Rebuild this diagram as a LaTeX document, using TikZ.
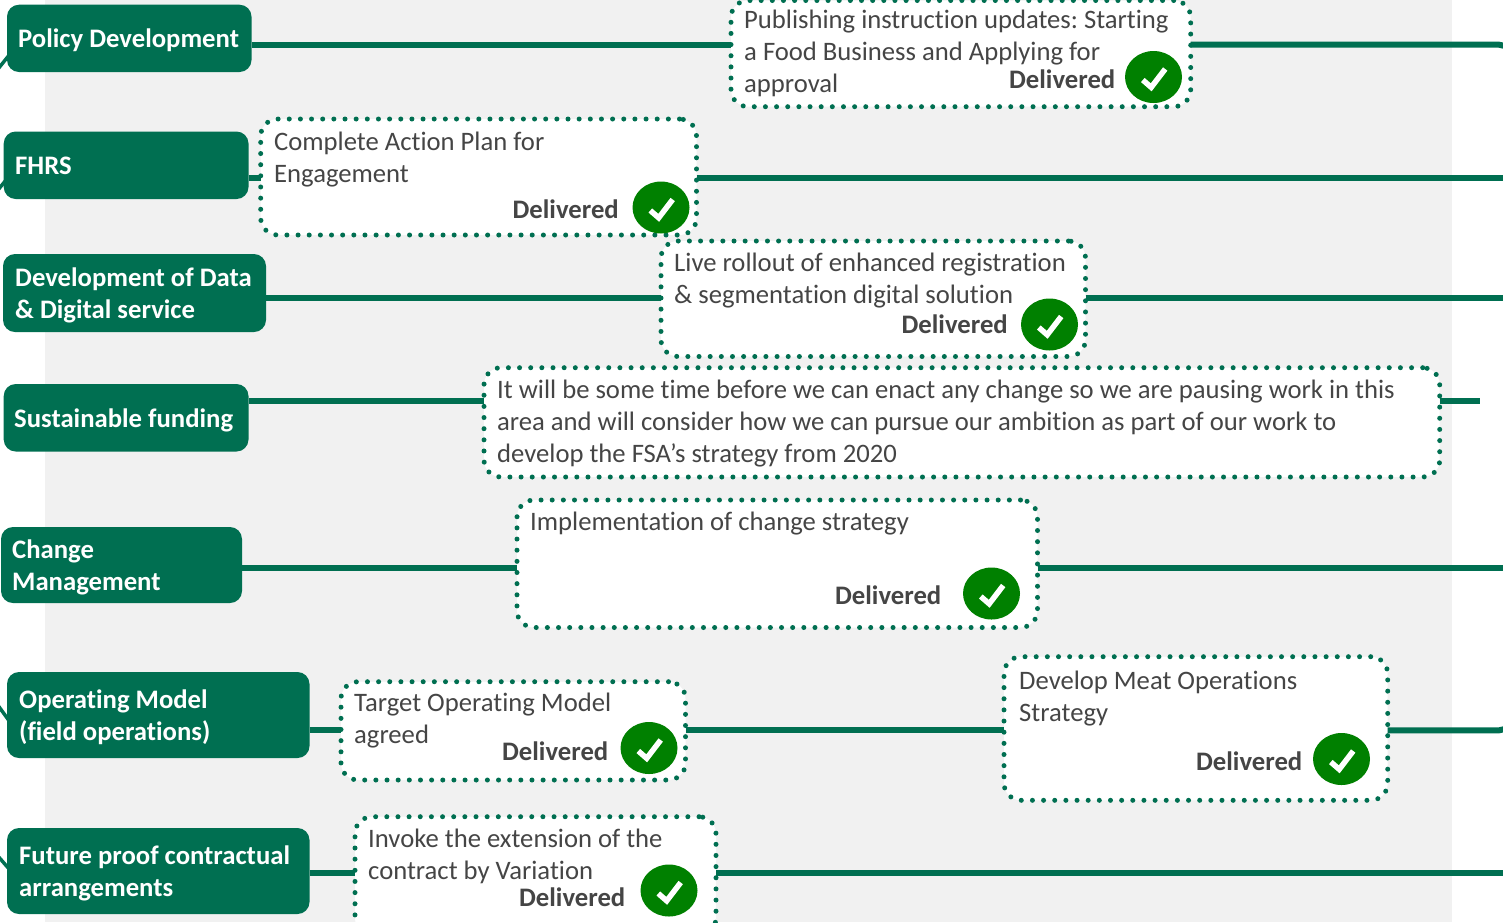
\documentclass[tikz,border=0pt]{standalone}
\usepackage{fontspec}
\setmainfont[Ligatures=NoCommon]{Carlito}
\usetikzlibrary{shapes.geometric}
\definecolor{fsagreen}{HTML}{006F51}
\definecolor{panelgrey}{HTML}{F1F1F1}
\definecolor{bodygrey}{HTML}{454545}
\definecolor{okgreen}{HTML}{008000}
\tikzset{
  gbox/.style={draw=none,fill=fsagreen,rounded corners=12pt,inner sep=0pt,outer sep=0pt},
  dbox/.style={draw=fsagreen,fill=white,line width=5pt,line cap=round,dash pattern=on 0pt off 11.15pt,rounded corners=17pt,inner sep=0pt,outer sep=0pt},
  gtext/.style={text=white,font=\fontsize{26.7}{32}\selectfont\bfseries\frenchspacing,align=left,anchor=base west,inner sep=0pt},
  btext/.style={text=bodygrey,font=\fontsize{26.65}{32}\selectfont\frenchspacing,align=left,anchor=base west,inner sep=0pt},
  dtext/.style={text=bodygrey,font=\fontsize{26.7}{32}\selectfont\bfseries,anchor=base east,inner sep=0pt},
  okdisc/.style={ellipse,fill=okgreen,draw=none,minimum width=57pt,minimum height=52pt,inner sep=0pt},
  tick/.style={draw=white,line width=5.5pt,line join=miter},
  link/.style={draw=fsagreen,line width=6pt},
  stub/.style={draw=fsagreen,line width=3.5pt}
}
\newcommand{\okmark}[3]{%
  \node[okdisc] (#1) at (#2,#3) {};
  \draw[tick] ([shift={(-10.7,3)}]#1.center) -- ([shift={(-2.3,10.3)}]#1.center) -- ([shift={(11.7,-8)}]#1.center);
}
\newcommand{\tbox}[6]{% name style x1 y1 x2 y2
  \node[#2,minimum width=#5pt-#3pt,minimum height=#6pt-#4pt] (#1) at ({(#3+#5)/2},{(#4+#6)/2}) {};
}
\begin{document}
\begin{tikzpicture}[x=1pt,y=-1pt]
\useasboundingbox (0,0) rectangle (1503,922);
\clip (0,0) rectangle (1503,922);
\fill[panelgrey] (45,0) rectangle (1452,922);

% rows
\coordinate (r1) at (0,44.7);
\coordinate (r2) at (0,178);
\coordinate (r3) at (0,297.5);
\coordinate (r4) at (0,400.7);
\coordinate (r5) at (0,568);
\coordinate (r6) at (0,730.3);
\coordinate (r7) at (0,873.3);
\coordinate (b1) at (1499,44.7);
\coordinate (e1) at (1505,46);
\coordinate (e2) at (1503,178);
\coordinate (e3) at (1503,297.5);
\coordinate (e4) at (1480,400.7);
\coordinate (e5) at (1503,568);
\coordinate (b6) at (1499,730.3);
\coordinate (e6) at (1505,729);
\coordinate (e7) at (1503,873.3);
\coordinate (s1) at (-2,69);
\coordinate (t1) at (10,54);
\coordinate (s2) at (-2,190);
\coordinate (t2) at (6,180);
\coordinate (s6) at (-3,704);
\coordinate (t6) at (10,722);
\coordinate (s7) at (-3,855);
\coordinate (t7) at (10,870);

% stubs at the left edge
\draw[stub] (s1) -- (t1);
\draw[stub] (s2) -- (t2);
\draw[stub] (s6) -- (t6);
\draw[stub] (s7) -- (t7);

% left labels
\tbox{pd}{gbox}{7}{4.7}{251.5}{72}
\tbox{fh}{gbox}{3.7}{131.5}{248.5}{199}
\tbox{dd}{gbox}{3}{254}{266}{332}
\tbox{sf}{gbox}{3.7}{384}{248.5}{451.5}
\tbox{cm}{gbox}{1}{527}{242}{603}
\tbox{om}{gbox}{7}{672}{309.5}{758}
\tbox{fp}{gbox}{7}{828}{309.5}{914}

% dotted milestone boxes
\tbox{ma}{dbox}{731}{0.5}{1190.7}{106.7}
\tbox{mb}{dbox}{260.7}{119}{696.5}{235}
\tbox{mc}{dbox}{661}{241}{1085.5}{356.5}
\tbox{md}{dbox}{484}{367.7}{1439.7}{477}
\tbox{me}{dbox}{517}{500}{1037.5}{627.5}
\tbox{mf}{dbox}{341}{681.7}{685.5}{780}
\tbox{mg}{dbox}{1004}{656.7}{1387.7}{800.3}
\tbox{mh}{dbox}{355}{816.7}{716}{935}

% connectors
\draw[link] (pd.east |- r1) -- (ma.west |- r1);
\draw[link] (ma.east |- r1) -- (b1) -- (e1);
\draw[link] (fh.east |- r2) -- (mb.west |- r2);
\draw[link] (mb.east |- r2) -- (e2);
\draw[link] (dd.east |- r3) -- (mc.west |- r3);
\draw[link] (mc.east |- r3) -- (e3);
\draw[link] (sf.east |- r4) -- (md.west |- r4);
\draw[link] (md.east |- r4) -- (e4);
\draw[link] (cm.east |- r5) -- (me.west |- r5);
\draw[link] (me.east |- r5) -- (e5);
\draw[link] (om.east |- r6) -- (mf.west |- r6);
\draw[link] (mf.east |- r6) -- (mg.west |- r6);
\draw[link] (mg.east |- r6) -- (b6) -- (e6);
\draw[link] (fp.east |- r7) -- (mh.west |- r7);
\draw[link] (mh.east |- r7) -- (e7);

% label texts
\node[gtext] (tpd) at (18,47) {Policy Development};
\node[gtext] (tfh) at (15,174) {FHRS};
\node[gtext] (tdd1) at (15,286) {Development of Data};
\node[gtext] (tdd2) at (15,318) {\&\ Digital service};
\node[gtext] (tsf) at (14,427) {Sustainable funding};
\node[gtext] (tcm1) at (12,558) {Change};
\node[gtext] (tcm2) at (12,590) {Management};
\node[gtext] (tom1) at (19,708) {Operating Model};
\node[gtext] (tom2) at (19,740) {(field operations)};
\node[gtext] (tfp1) at (19,864) {Future proof contractual};
\node[gtext] (tfp2) at (19,896) {arrangements};

% milestone texts
\node[btext] (ta1) at (744,28) {Publishing instruction updates: Starting};
\node[btext] (ta2) at (744,60) {a Food Business and Applying for};
\node[btext] (ta3) at (744,92) {approval};
\node[btext] (tb1) at (274,150) {Complete Action Plan for};
\node[btext] (tb2) at (274,182) {Engagement};
\node[btext] (tc1) at (674,271) {Live rollout of enhanced registration};
\node[btext] (tc2) at (674,303) {\&\ segmentation digital solution};
\node[btext] (td1) at (497,398) {It will be some time before we can enact any change so we are pausing work in this};
\node[btext] (td2) at (497,430) {area and will consider how we can pursue our ambition as part of our work to};
\node[btext] (td3) at (497,462) {develop the FSA’s strategy from 2020};
\node[btext] (te1) at (530,530) {Implementation of change strategy};
\node[btext] (tf1) at (354,711) {Target Operating Model};
\node[btext] (tf2) at (354,743) {agreed};
\node[btext] (tg1) at (1019,689) {Develop Meat Operations};
\node[btext] (tg2) at (1019,721) {Strategy};
\node[btext] (th1) at (368,847) {Invoke the extension of the};
\node[btext] (th2) at (368,879) {contract by Variation};

% delivered
\node[dtext] (da) at (1115.5,88) {Delivered};
\node[dtext] (db) at (619,218) {Delivered};
\node[dtext] (dc) at (1008,333) {Delivered};
\node[dtext] (de) at (941.5,604) {Delivered};
\node[dtext] (df) at (608.5,760) {Delivered};
\node[dtext] (dg) at (1302.5,770) {Delivered};
\node[dtext] (dh) at (625.5,906) {Delivered};

\okmark{oa}{1153.5}{77}
\okmark{ob}{661}{207.5}
\okmark{oc}{1049.5}{324.5}
\okmark{oe}{991.5}{593.5}
\okmark{of}{649}{748}
\okmark{og}{1341.5}{759}
\okmark{oh}{669}{890.5}
\end{tikzpicture}
\end{document}
